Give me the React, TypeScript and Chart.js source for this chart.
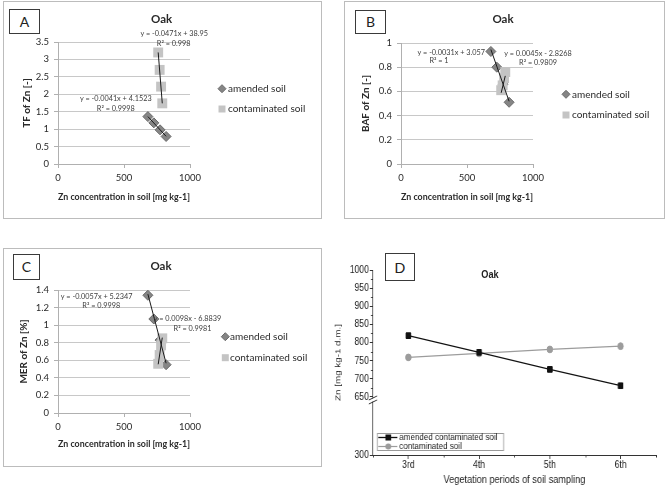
import React, { useEffect, useRef } from 'react';
import { Chart, registerables } from 'chart.js';

Chart.register(...registerables);

// ---------------- data ----------------
// Zn concentration in soil for the four sampling periods (3rd..6th)
const amendedZn = [819, 773, 726, 681];
const contamZn = [759, 770, 781, 790];

// Panel A – TF of Zn
const tfAmended = [0.79, 0.98, 1.18, 1.36];
const tfContam = [3.2, 2.7, 2.22, 1.74];
// Panel B – BAF of Zn
const bafAmended = [0.51, 0.66, 0.8, 0.93];
const bafContam = [0.61, 0.65, 0.71, 0.76];
// Panel C – MER of Zn
const merAmended = [0.55, 0.83, 1.07, 1.34];
const merContam = [0.56, 0.66, 0.77, 0.85];

// linear trendline coefficients [slope, intercept]
const tfTrendAmended = [-0.0041, 4.1523];
const tfTrendContam = [-0.0471, 38.95];
const bafTrendAmended = [-0.0031, 3.057];
const bafTrendContam = [0.0045, -2.8268];
const merTrendAmended = [-0.0057, 5.2347];
const merTrendContam = [0.0098, -6.8839];

const xTicksConc = [0, 500, 1000];

const tfEquations = ['y = -0.0471x + 38.95', 'R² = 0.998', 'y = -0.0041x + 4.1523', 'R² = 0.9998'];
const bafEquations = ['y = -0.0031x + 3.057', 'R² = 1', 'y = 0.0045x - 2.8268', 'R² = 0.9809'];
const merEquations = ['y = -0.0057x + 5.2347', 'R² = 0.9998', 'y = 0.0098x - 6.8839', 'R² = 0.9981'];

// Panel D – Zn in soil over vegetation periods
const periods = ['3rd', '4th', '5th', '6th'];
const periodPos = [3, 4, 5, 6];
const dAmended = [819, 773, 726, 681];
const dContam = [759, 770, 781, 790];
const dTickValues = [300, 650, 700, 750, 800, 850, 900, 950, 1000];

// broken y axis: 300–650 is compressed
const BREAK_AT = 650;
const LOW_MIN = 300;
const LOW_SPAN_AXIS = 160;
function toAxis(v: number) {
  return v >= BREAK_AT ? v : BREAK_AT - ((BREAK_AT - v) * LOW_SPAN_AXIS) / (BREAK_AT - LOW_MIN);
}

// ---------------- styles ----------------
const AC_FONT = "Lato, 'Noto Sans', sans-serif";
const D_FONT = "'Liberation Sans', Arial, sans-serif";
const D_SQUEEZE = 0.82; // panel D is drawn horizontally condensed
const GRID = '#c8c8c8';
const AXIS = '#b0b0b0';
const TEXT = '#2a2a2a';

function pts(xs: number[], ys: number[]) {
  return xs.map((x, i) => ({ x, y: ys[i] }));
}
function trendPoints(xs: number[], coef: number[]) {
  const lo = Math.min(...xs);
  const hi = Math.max(...xs);
  return [lo, hi].map((x) => ({ x, y: coef[0] * x + coef[1] }));
}
function fmt(v: number) {
  return String(Math.round(v * 10) / 10);
}

const sideLegend = {
  id: 'sideLegend',
  afterDraw(chart: any, _a: any, opts: any) {
    const { ctx } = chart;
    const items = chart.data.datasets.filter((d: any) => d.inLegend);
    ctx.save();
    items.forEach((d: any, i: number) => {
      const y = opts.y + i * opts.dy;
      ctx.fillStyle = d.backgroundColor;
      ctx.strokeStyle = d.borderColor;
      ctx.lineWidth = 1;
      ctx.beginPath();
      if (d.pointStyle === 'rectRot') {
        const r = opts.diamond;
        ctx.moveTo(opts.x - r, y);
        ctx.lineTo(opts.x, y - r);
        ctx.lineTo(opts.x + r, y);
        ctx.lineTo(opts.x, y + r);
        ctx.closePath();
        ctx.fill();
        ctx.stroke();
      } else {
        const s = opts.square;
        ctx.rect(opts.x - s / 2, y - s / 2, s, s);
        ctx.fill();
      }
      ctx.fillStyle = TEXT;
      ctx.font = `10px ${AC_FONT}`;
      ctx.textAlign = 'left';
      ctx.textBaseline = 'middle';
      ctx.fillText(d.label, opts.textX, y);
    });
    ctx.restore();
  },
};

interface ScatterSpec {
  amended: number[];
  contam: number[];
  trendA: number[];
  trendC: number[];
  yMax: number;
  yStep: number;
  yTitle: string;
  yAxisW: number;
  xAxisH: number;
  padRight: number;
  padTop: number;
  yTitlePad: number;
  xTitlePad: number;
  legend: { x: number; y: number; dy: number; textX: number };
}

function scatterConfig(s: ScatterSpec): any {
  const tickFont = { family: AC_FONT, size: 9.5 };
  const titleFont = { family: AC_FONT, size: 10, weight: 'bold' as const, lineHeight: 1.2 };
  return {
    type: 'scatter',
    data: {
      datasets: [
        {
          label: 'amended soil',
          inLegend: true,
          data: pts(amendedZn, s.amended),
          pointStyle: 'rectRot',
          pointRadius: 5,
          pointHoverRadius: 5,
          backgroundColor: '#858585',
          borderColor: '#6a6a6a',
          borderWidth: 1,
          order: 2,
        },
        {
          label: 'contaminated soil',
          inLegend: true,
          data: pts(contamZn, s.contam),
          pointStyle: 'rect',
          pointRadius: 7,
          pointHoverRadius: 7,
          backgroundColor: '#c4c4c4',
          borderColor: '#c4c4c4',
          borderWidth: 0,
          order: 1,
        },
        {
          type: 'line',
          label: 'trend amended',
          data: trendPoints(amendedZn, s.trendA),
          borderColor: '#1a1a1a',
          borderWidth: 1,
          pointRadius: 0,
          order: 0,
        },
        {
          type: 'line',
          label: 'trend contaminated',
          data: trendPoints(contamZn, s.trendC),
          borderColor: '#1a1a1a',
          borderWidth: 1,
          pointRadius: 0,
          order: 0,
        },
      ],
    },
    options: {
      animation: false,
      responsive: false,
      devicePixelRatio: 1,
      events: [],
      layout: { autoPadding: false, padding: { left: 0, right: s.padRight, top: s.padTop, bottom: 0 } },
      plugins: {
        legend: { display: false },
        tooltip: { enabled: false },
        sideLegend: { ...s.legend, diamond: 4, square: 7 },
      },
      scales: {
        x: {
          type: 'linear',
          min: 0,
          max: 1000,
          afterBuildTicks: (sc: any) => {
            sc.ticks = xTicksConc.map((v) => ({ value: v }));
          },
          afterFit: (sc: any) => {
            sc.height = s.xAxisH;
          },
          ticks: { font: tickFont, color: TEXT, padding: 4, maxRotation: 0, callback: (v: number) => String(v) },
          grid: { drawOnChartArea: false, drawTicks: true, tickLength: 4, color: AXIS },
          border: { color: AXIS },
          title: {
            display: true,
            text: 'Zn concentration in soil [mg kg-1]',
            font: titleFont,
            color: TEXT,
            padding: { top: 0, bottom: s.xTitlePad },
          },
        },
        y: {
          type: 'linear',
          min: 0,
          max: s.yMax,
          afterFit: (sc: any) => {
            sc.width = s.yAxisW;
          },
          ticks: { stepSize: s.yStep, font: tickFont, color: TEXT, padding: 5, callback: (v: number) => fmt(v) },
          grid: { color: GRID, tickLength: 4, tickColor: AXIS },
          border: { color: AXIS },
          title: {
            display: true,
            text: s.yTitle,
            font: titleFont,
            color: TEXT,
            padding: { top: s.yTitlePad, bottom: 0 },
          },
        },
      },
    },
    plugins: [sideLegend],
  };
}

const dLegend = {
  id: 'dLegend',
  afterDraw(chart: any, _a: any, opts: any) {
    const { ctx } = chart;
    ctx.save();
    const [l, t, r, b] = opts.box;
    ctx.fillStyle = '#fff';
    ctx.fillRect(l, t, r - l, b - t);
    ctx.strokeStyle = '#9a9a9a';
    ctx.lineWidth = 1;
    ctx.strokeRect(l + 0.5, t + 0.5, r - l - 1, b - t - 1);
    chart.data.datasets.forEach((d: any, i: number) => {
      const y = opts.rows[i];
      ctx.strokeStyle = d.borderColor;
      ctx.lineWidth = d.borderWidth;
      ctx.beginPath();
      ctx.moveTo(opts.lineX[0], y);
      ctx.lineTo(opts.lineX[1], y);
      ctx.stroke();
      ctx.fillStyle = d.backgroundColor;
      ctx.beginPath();
      if (d.pointStyle === 'rect') {
        ctx.rect(opts.markerX - 3.5, y - 3, 7, 6);
      } else {
        ctx.ellipse(opts.markerX, y, 3.6, 3, 0, 0, Math.PI * 2);
      }
      ctx.fill();
      ctx.fillStyle = '#222';
      ctx.font = `9.8px ${D_FONT}`;
      ctx.textAlign = 'left';
      ctx.textBaseline = 'middle';
      ctx.fillText(d.label, opts.textX, y);
    });
    ctx.restore();
  },
};

const axisDecor = {
  id: 'axisDecor',
  afterDraw(chart: any) {
    const { ctx, chartArea } = chart;
    const x = chart.scales.x;
    const y = chart.scales.y;
    ctx.save();
    ctx.strokeStyle = '#333';
    ctx.lineWidth = 1;
    ctx.beginPath();
    for (let i = 1; i < dTickValues.length; i++) {
      const a = dTickValues[i - 1];
      const b = dTickValues[i];
      if (a >= BREAK_AT) {
        const py = Math.round(y.getPixelForValue((a + b) / 2)) + 0.5;
        ctx.moveTo(chartArea.left - 2.5, py);
        ctx.lineTo(chartArea.left, py);
      }
    }
    const minorX = [periodPos[0] - 0.5];
    for (let i = 1; i < periodPos.length; i++) minorX.push((periodPos[i - 1] + periodPos[i]) / 2);
    minorX.push(periodPos[periodPos.length - 1] + 0.5);
    minorX.forEach((v) => {
      const px = Math.round(x.getPixelForValue(v)) + 0.5;
      ctx.moveTo(px, chartArea.bottom);
      ctx.lineTo(px, chartArea.bottom + 2.5);
    });
    ctx.stroke();
    // axis break marks
    const by = y.getPixelForValue(BREAK_AT) + 3;
    const bx = chartArea.left;
    ctx.fillStyle = '#fff';
    ctx.fillRect(bx - 2, by - 1.5, 4, 3);
    ctx.beginPath();
    ctx.moveTo(bx - 5, by);
    ctx.lineTo(bx + 5, by - 4);
    ctx.moveTo(bx - 5, by + 4);
    ctx.lineTo(bx + 5, by);
    ctx.stroke();
    ctx.restore();
  },
};

const sq = (px: number) => px / D_SQUEEZE;

function dConfig(): any {
  const tickFont = { family: D_FONT, size: 10.5 };
  return {
    type: 'line',
    data: {
      datasets: [
        {
          label: 'amended contaminated soil',
          data: periodPos.map((x, i) => ({ x, y: toAxis(dAmended[i]) })),
          borderColor: '#111',
          backgroundColor: '#111',
          borderWidth: 1.3,
          pointStyle: 'rect',
          pointRadius: 4,
          pointBorderWidth: 1,
          order: 0,
        },
        {
          label: 'contaminated soil',
          data: periodPos.map((x, i) => ({ x, y: toAxis(dContam[i]) })),
          borderColor: '#9c9c9c',
          backgroundColor: '#9c9c9c',
          borderWidth: 1.2,
          pointStyle: 'circle',
          pointRadius: 3.4,
          pointBorderWidth: 1,
          order: 1,
        },
      ],
    },
    options: {
      animation: false,
      responsive: false,
      devicePixelRatio: 1,
      events: [],
      layout: { autoPadding: false, padding: { left: 0, right: sq(10), top: 30, bottom: 0 } },
      plugins: {
        legend: { display: false },
        tooltip: { enabled: false },
        dLegend: {
          box: [sq(44), 193, sq(171), 211],
          rows: [197.5, 206.5],
          lineX: [sq(45.3), sq(64.3)],
          markerX: sq(55.3),
          textX: sq(66.3),
        },
      },
      scales: {
        x: {
          type: 'linear',
          min: 2.5,
          max: 6.5,
          afterBuildTicks: (sc: any) => {
            sc.ticks = periodPos.map((v) => ({ value: v }));
          },
          afterFit: (sc: any) => {
            sc.height = 31;
          },
          ticks: {
            font: tickFont,
            color: '#222',
            padding: 0,
            maxRotation: 0,
            callback: (v: number) => periods[periodPos.indexOf(v)] ?? '',
          },
          grid: { drawOnChartArea: false, drawTicks: true, tickLength: 4, color: '#333' },
          border: { color: '#333' },
          title: {
            display: true,
            text: 'Vegetation periods of soil sampling',
            font: { family: D_FONT, size: 11.2, lineHeight: 1 },
            color: '#222',
            padding: { top: 0, bottom: 0.5 },
          },
        },
        y: {
          type: 'linear',
          min: toAxis(LOW_MIN),
          max: 1000,
          afterBuildTicks: (sc: any) => {
            sc.ticks = dTickValues.map((v) => ({ value: toAxis(v) }));
          },
          afterFit: (sc: any) => {
            sc.width = sq(40);
          },
          ticks: {
            font: tickFont,
            color: '#222',
            padding: 1,
            callback: (v: number) => {
              const i = dTickValues.findIndex((t) => Math.abs(toAxis(t) - v) < 1e-6);
              return i >= 0 ? String(dTickValues[i]) : '';
            },
          },
          grid: { drawOnChartArea: false, drawTicks: true, tickLength: 4, color: '#333' },
          border: { color: '#333' },
          title: {
            display: true,
            text: 'Zn [mg kg-1 d.m.]',
            font: { family: D_FONT, size: 9.8, lineHeight: 1 },
            color: '#222',
            padding: { top: 1, bottom: 0 },
          },
        },
      },
    },
    plugins: [axisDecor, dLegend],
  };
}

function ChartCanvas({
  make,
  left,
  top,
  width,
  height,
  squeeze = 1,
}: {
  make: () => any;
  left: number;
  top: number;
  width: number;
  height: number;
  squeeze?: number;
}) {
  const ref = useRef<HTMLCanvasElement>(null);
  useEffect(() => {
    const chart = new Chart(ref.current as HTMLCanvasElement, make());
    return () => chart.destroy();
  }, []);
  return (
    <canvas
      ref={ref}
      width={width}
      height={height}
      style={{
        position: 'absolute',
        left,
        top,
        width,
        height,
        transform: squeeze !== 1 ? `scaleX(${squeeze})` : undefined,
        transformOrigin: '0 0',
      }}
    />
  );
}

function Label({
  x,
  y,
  text,
  font,
  size,
  weight,
  color,
  squeeze = 1,
}: {
  x: number;
  y: number;
  text: string;
  font: string;
  size: number;
  weight?: string;
  color?: string;
  squeeze?: number;
}) {
  return (
    <div
      style={{
        position: 'absolute',
        left: x,
        top: y,
        transform: `translate(-50%, -50%) scaleX(${squeeze})`,
        whiteSpace: 'nowrap',
        fontFamily: font,
        fontSize: size,
        fontWeight: (weight as any) || 'normal',
        color: color || TEXT,
        lineHeight: 1,
      }}
    >
      {text}
    </div>
  );
}

function LetterBox({ x, y, w, h, text, font, size }: { x: number; y: number; w: number; h: number; text: string; font: string; size: number }) {
  return (
    <div
      style={{
        position: 'absolute',
        left: x,
        top: y,
        width: w,
        height: h,
        boxSizing: 'border-box',
        border: '1px solid #3a3a3a',
        background: '#fff',
        display: 'flex',
        alignItems: 'center',
        justifyContent: 'center',
        fontFamily: font,
        fontSize: size,
        color: '#222',
        lineHeight: 1,
      }}
    >
      {text}
    </div>
  );
}

function Panel({ left, top, width, height, children }: { left: number; top: number; width: number; height: number; children: any }) {
  return (
    <div style={{ position: 'absolute', left, top, width, height, border: '1px solid #bcbcbc', boxSizing: 'content-box' }}>
      {children}
    </div>
  );
}

const EQ = 7.3;

export default function App() {
  return (
    <div style={{ position: 'fixed', left: 0, top: 0, width: 666, height: 486, background: '#fff', overflow: 'hidden' }}>
      <Panel left={3} top={1} width={317} height={216}>
        <ChartCanvas
          left={0}
          top={0}
          width={317}
          height={216}
          make={() =>
            scatterConfig({
              amended: tfAmended,
              contam: tfContam,
              trendA: tfTrendAmended,
              trendC: tfTrendContam,
              yMax: 3.5,
              yStep: 0.5,
              yTitle: 'TF of Zn [-]',
              yAxisW: 54,
              xAxisH: 54,
              padRight: 131,
              padTop: 40,
              yTitlePad: 17,
              xTitlePad: 15,
              legend: { x: 218, y: 86.7, dy: 20.3, textX: 224 },
            })
          }
        />
      </Panel>
      <Panel left={344} top={1} width={319} height={216}>
        <ChartCanvas
          left={0}
          top={0}
          width={319}
          height={216}
          make={() =>
            scatterConfig({
              amended: bafAmended,
              contam: bafContam,
              trendA: bafTrendAmended,
              trendC: bafTrendContam,
              yMax: 1,
              yStep: 0.2,
              yTitle: 'BAF of Zn [-]',
              yAxisW: 56,
              xAxisH: 54,
              padRight: 131,
              padTop: 41,
              yTitlePad: 15,
              xTitlePad: 15,
              legend: { x: 221, y: 92.3, dy: 20.7, textX: 227 },
            })
          }
        />
      </Panel>
      <Panel left={3} top={248} width={317} height={217}>
        <ChartCanvas
          left={0}
          top={0}
          width={317}
          height={217}
          make={() =>
            scatterConfig({
              amended: merAmended,
              contam: merContam,
              trendA: merTrendAmended,
              trendC: merTrendContam,
              yMax: 1.4,
              yStep: 0.2,
              yTitle: 'MER of Zn [%]',
              yAxisW: 54,
              xAxisH: 53,
              padRight: 131,
              padTop: 41,
              yTitlePad: 14,
              xTitlePad: 16.5,
              legend: { x: 221.3, y: 87.7, dy: 21, textX: 226 },
            })
          }
        />
      </Panel>
      <ChartCanvas left={333} top={240} width={Math.round(333 / D_SQUEEZE)} height={246} squeeze={D_SQUEEZE} make={dConfig} />

      {/* titles */}
      <Label x={161.7} y={19} text="Oak" font={AC_FONT} size={11.5} weight="bold" />
      <Label x={503} y={19} text="Oak" font={AC_FONT} size={11.5} weight="bold" />
      <Label x={161} y={266} text="Oak" font={AC_FONT} size={11.5} weight="bold" />
      <Label x={490} y={275} text="Oak" font={D_FONT} size={11.2} weight="bold" color="#222" squeeze={D_SQUEEZE} />

      {/* panel letters */}
      <LetterBox x={9} y={9} w={31} h={25} text="A" font={AC_FONT} size={14} />
      <LetterBox x={355} y={10} w={31} h={24} text="B" font={AC_FONT} size={14} />
      <LetterBox x={13} y={254} w={27} h={26} text="C" font={AC_FONT} size={14} />
      <LetterBox x={385} y={253} w={30} h={28} text="D" font={D_FONT} size={15} />

      {/* trendline equations */}
      <Label x={174.2} y={34.3} text={tfEquations[0]} font={AC_FONT} size={EQ} color="#404040" />
      <Label x={173.7} y={44.3} text={tfEquations[1]} font={AC_FONT} size={EQ} color="#404040" />
      <Label x={115.8} y={99.3} text={tfEquations[2]} font={AC_FONT} size={EQ} color="#404040" />
      <Label x={115.8} y={108.7} text={tfEquations[3]} font={AC_FONT} size={EQ} color="#404040" />

      <Label x={451.3} y={52.7} text={bafEquations[0]} font={AC_FONT} size={EQ} color="#404040" />
      <Label x={439} y={60.7} text={bafEquations[1]} font={AC_FONT} size={EQ} color="#404040" />
      <Label x={538} y={54.3} text={bafEquations[2]} font={AC_FONT} size={EQ} color="#404040" />
      <Label x={538} y={63.3} text={bafEquations[3]} font={AC_FONT} size={EQ} color="#404040" />

      <Label x={96.7} y={296.7} text={merEquations[0]} font={AC_FONT} size={EQ} color="#404040" />
      <Label x={101.3} y={306} text={merEquations[1]} font={AC_FONT} size={EQ} color="#404040" />
      <Label x={187.5} y={319.3} text={merEquations[2]} font={AC_FONT} size={EQ} color="#404040" />
      <Label x={192.5} y={329} text={merEquations[3]} font={AC_FONT} size={EQ} color="#404040" />
    </div>
  );
}
